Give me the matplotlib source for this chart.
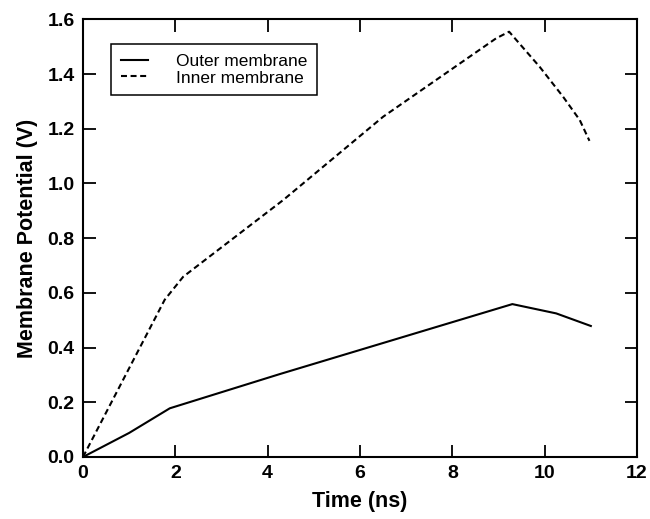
import matplotlib
matplotlib.use("Agg")
import matplotlib.pyplot as plt

# Membrane potential traces (time in ns, potential in V)
outer_t = [0.0, 1.0, 1.88, 4.26, 9.3, 10.25, 11.0]
outer_v = [0.0, 0.088, 0.178, 0.303, 0.559, 0.525, 0.479]

inner_t = [0.0, 1.77, 2.17, 4.34, 6.5, 8.95, 9.23, 9.89, 10.4, 10.76, 10.97]
inner_v = [0.0, 0.575, 0.659, 0.94, 1.244, 1.531, 1.555, 1.427, 1.317, 1.232, 1.156]

x_ticks = [0, 2, 4, 6, 8, 10, 12]
y_ticks = [0.0, 0.2, 0.4, 0.6, 0.8, 1.0, 1.2, 1.4, 1.6]

plt.rcParams["font.family"] = ["Liberation Sans", "DejaVu Sans"]
plt.rcParams["lines.scale_dashes"] = False

fig = plt.figure(figsize=(6.5, 5.19), dpi=100)
ax = fig.add_axes([0.1277, 0.1195, 0.8523, 0.8431])

ax.plot(outer_t, outer_v, color="black", lw=1.5, ls="-", label="Outer membrane")
ax.plot(inner_t, inner_v, color="black", lw=1.5, ls=(0, (4.3, 2.6)), label="Inner membrane")

ax.set_xlim(0, 12)
ax.set_ylim(0, 1.6)
ax.set_xticks(x_ticks)
ax.set_yticks(y_ticks)
ax.set_xticklabels([str(t) for t in x_ticks])
ax.set_yticklabels([f"{v:.1f}" for v in y_ticks])

ax.tick_params(direction="in", length=9, width=1.3, top=True, right=True,
               labelsize=14, pad=6)
for lbl in ax.get_xticklabels() + ax.get_yticklabels():
    lbl.set_fontweight("bold")

for sp in ax.spines.values():
    sp.set_linewidth(1.5)

ax.set_xlabel("Time (ns)", fontsize=15.5, fontweight="bold", labelpad=6)
ax.set_ylabel("Membrane Potential (V)", fontsize=15.5, fontweight="bold", labelpad=7)

leg = ax.legend(loc="upper left", bbox_to_anchor=(0.0505, 0.944), borderaxespad=0,
                fancybox=False, frameon=True, edgecolor="black", framealpha=1,
                prop={"size": 12.5}, handlelength=1.6, handletextpad=1.6,
                borderpad=0.55, labelspacing=0.1)
leg.get_frame().set_linewidth(1.1)

fig.savefig("out.png", dpi=100)
